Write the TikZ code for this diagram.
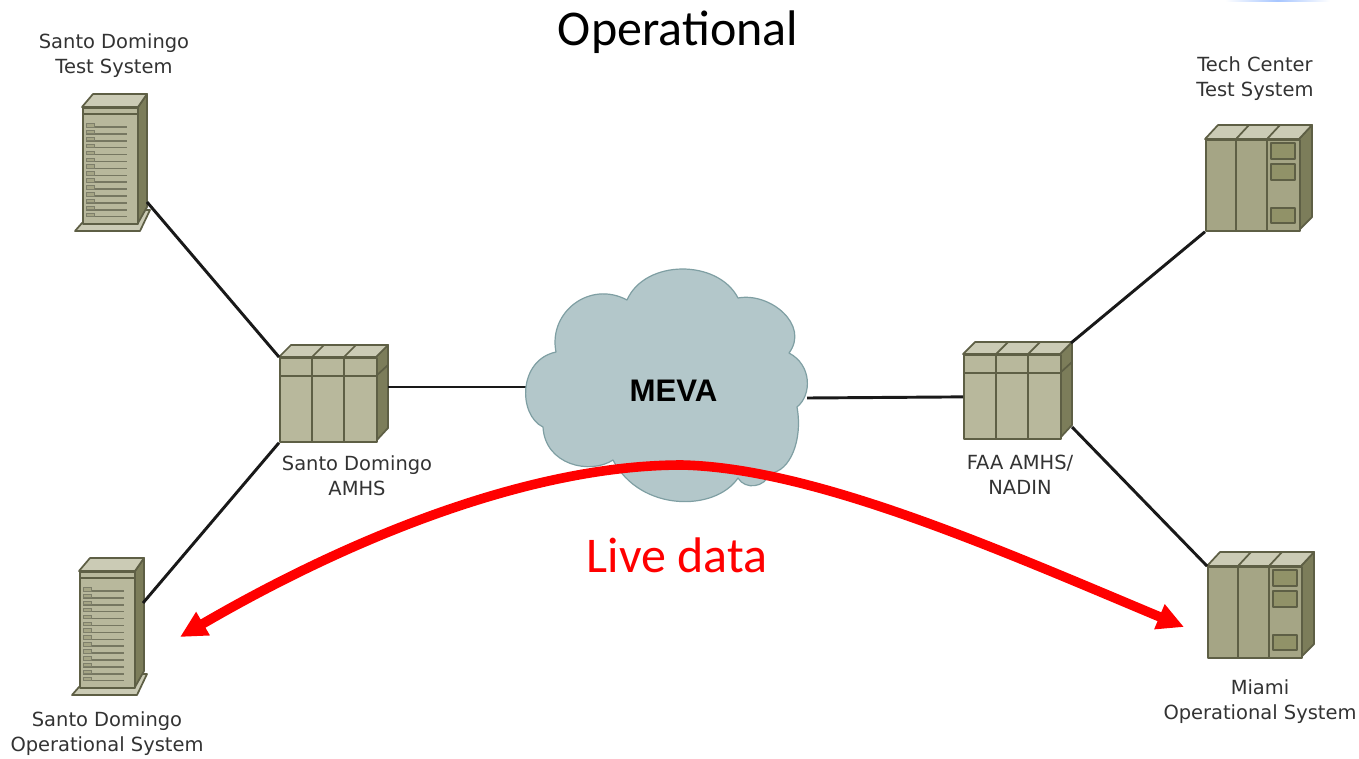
\documentclass[tikz,border=0pt]{standalone}
\usepackage{fontspec}
\setmainfont{DejaVu Sans}
\newfontfamily\titlefont{Carlito}
\newfontfamily\mevafont{Liberation Sans}
\usetikzlibrary{arrows.meta}
\definecolor{edgeD}{HTML}{5E5F45}
\definecolor{faceA}{HTML}{B8B89C}
\definecolor{faceB}{HTML}{A5A585}
\definecolor{faceT}{HTML}{CBCBB5}
\definecolor{faceS}{HTML}{7C7D5A}
\definecolor{faceP}{HTML}{919268}
\definecolor{cloudF}{HTML}{B3C7CA}
\definecolor{cloudE}{HTML}{7F9FA3}
\tikzset{
  x=.75pt,y=-.75pt,
  part/.style={draw=edgeD,line width=1.3pt,line join=round},
  link/.style={draw=black!90,line width=2.2pt},
  label/.style={align=center,font=\fontsize{14.6}{18.75}\selectfont,text=black!80,inner sep=0pt},
  live/.style={draw=red,line width=7.2pt,-{Triangle[length=20pt,width=19pt]}}
}
% tower: origin = top-left of roof band at (82,107)
\newcommand{\towerdev}[3]{%
\begin{scope}[shift={(#2,#3)}]
  \coordinate (#1-e) at (65,95);
  \filldraw[part,fill=faceT] (-7,124)--(58,124)--(68,103)--(55,103)--(0,116)--cycle;
  \filldraw[part,fill=faceS] (56,0)--(65,-13)--(65,100)--(56,116)--cycle;
  \filldraw[part,fill=faceT] (0,0)--(11,-13)--(65,-13)--(56,0)--cycle;
  \node[part,fill=faceA,anchor=north west,minimum width=41.5pt,minimum height=87pt,inner sep=0pt] (#1) at (0,0) {};
  \draw[part] (0,7)--(56,7);
  \foreach \i in {0,...,13}{
    \draw[draw=edgeD!85,line width=1.1pt] (4,{20+\i*6.9})--(45,{20+\i*6.9});
    \filldraw[draw=edgeD!80,fill=faceB,line width=.7pt] (4,{16.5+\i*6.9}) rectangle (12,{20+\i*6.9});
  }
\end{scope}}
% cabinet with panel: origin = front top-left
\newcommand{\cabinetdev}[3]{%
\begin{scope}[shift={(#2,#3)}]
  \filldraw[part,fill=faceS] (94,0)--(107,-14)--(107,78)--(94,91)--cycle;
  \filldraw[part,fill=faceT] (0,0)--(13,-14)--(107,-14)--(94,0)--cycle;
  \draw[part] (31,0)--(44,-14) (62,0)--(75,-14);
  \node[part,fill=faceB,anchor=north west,minimum width=70.5pt,minimum height=68.25pt,inner sep=0pt] (#1) at (0,0) {};
  \draw[part] (31,0)--(31,91) (62,0)--(62,91);
  \foreach \a/\b in {4/20,25/41,69/84}
    \filldraw[part,fill=faceP] (66,\a) rectangle (90,\b);
\end{scope}}
% switch: origin = front top-left
\newcommand{\switchdev}[3]{%
\begin{scope}[shift={(#2,#3)}]
  \coordinate (#1-e) at (109,30);
  \filldraw[part,fill=faceS] (97,0)--(109,-12)--(109,71)--(97,84)--cycle;
  \draw[part] (97,19)--(109,8);
  \filldraw[part,fill=faceT] (0,0)--(12,-12)--(109,-12)--(97,0)--cycle;
  \draw[part] (33,0)--(45,-12) (65,0)--(77,-12);
  \node[part,fill=faceA,anchor=north west,minimum width=72.75pt,minimum height=63pt,inner sep=0pt] (#1) at (0,0) {};
  \draw[part] (33,0)--(33,84) (65,0)--(65,84) (0,19)--(97,19);
\end{scope}}
\begin{document}
\begin{tikzpicture}
\useasboundingbox[fill=white] (0,0) rectangle (1359,758);
\shade[left color=white,right color=white,middle color=cyan!35!blue!35] (1225,0) rectangle (1330,1.5);
\node[anchor=center,font=\titlefont\fontsize{37.5}{40}\selectfont,inner sep=0pt] (title) at (678,32) {Operational};

% coordinates for link ends
\coordinate (testB) at (147,202);
\coordinate (opB) at (143,603);
\coordinate (cloudL) at (527,387);
\coordinate (cloudR) at (807,398);
\coordinate (faaTop) at (1071,343);
\coordinate (faaBot) at (1072,427);
\coordinate (arrowL) at (180,637);
\coordinate (arrowR) at (1184,627);
\coordinate (liveTop) at (682,465);

% devices
\towerdev{sdtest}{82}{107}
\towerdev{sdop}{79}{571}
\cabinetdev{tctest}{1205}{139}
\cabinetdev{miami}{1207}{566}
\switchdev{sdamhs}{279}{357}
\switchdev{faa}{963}{354}

% links
\draw[link] (testB) -- (sdamhs.north west);
\draw[link] (opB) -- (sdamhs.south west);
\draw[link] (sdamhs-e) -- (cloudL);
\draw[link] (cloudR) -- (faa.west);
\draw[link] (faaTop) -- (tctest.south west);
\draw[link] (faaBot) -- (miami.north west);

% cloud
\filldraw[draw=cloudE,fill=cloudF,line width=.9pt,line join=round] (627,300)
  .. controls (645,259) and (718,259) .. (738,298)
  .. controls (770,292) and (810,325) .. (789,353)
  .. controls (812,365) and (812,395) .. (797,407)
  .. controls (803,440) and (790,472) .. (770,473)
  .. controls (765,488) and (745,490) .. (738,478)
  .. controls (715,512) and (640,512) .. (613,460)
  .. controls (590,475) and (545,465) .. (543,427)
  .. controls (518,415) and (518,360) .. (556,352)
  .. controls (548,312) and (590,280) .. (627,300) -- cycle;
\node[font=\mevafont\bfseries\fontsize{23.4}{26}\selectfont,text=black,inner sep=0pt] (meva) at (673.5,391) {MEVA};

% labels
\node[label] (l1) at (114,56) {Santo Domingo\\Test System};
\node[label] (l2) at (1255,79) {Tech Center\\Test System};
\node[label] (l3) at (357,476) {Santo Domingo\\AMHS};
\node[label] (l4) at (1020,475) {FAA AMHS/\\NADIN};
\node[label] (l5) at (107,734) {Santo Domingo\\Operational System};
\node[label] (l6) at (1260,702) {Miami\\Operational System};

% live data
\draw[live] (liveTop) .. controls (530,465) and (350,538) .. (arrowL);
\draw[live] (liveTop) .. controls (815,468) and (1000,550) .. (arrowR);
\node[font=\titlefont\fontsize{37.5}{40}\selectfont,text=red,inner sep=0pt] (live) at (677,555) {Live data};
\end{tikzpicture}
\end{document}
